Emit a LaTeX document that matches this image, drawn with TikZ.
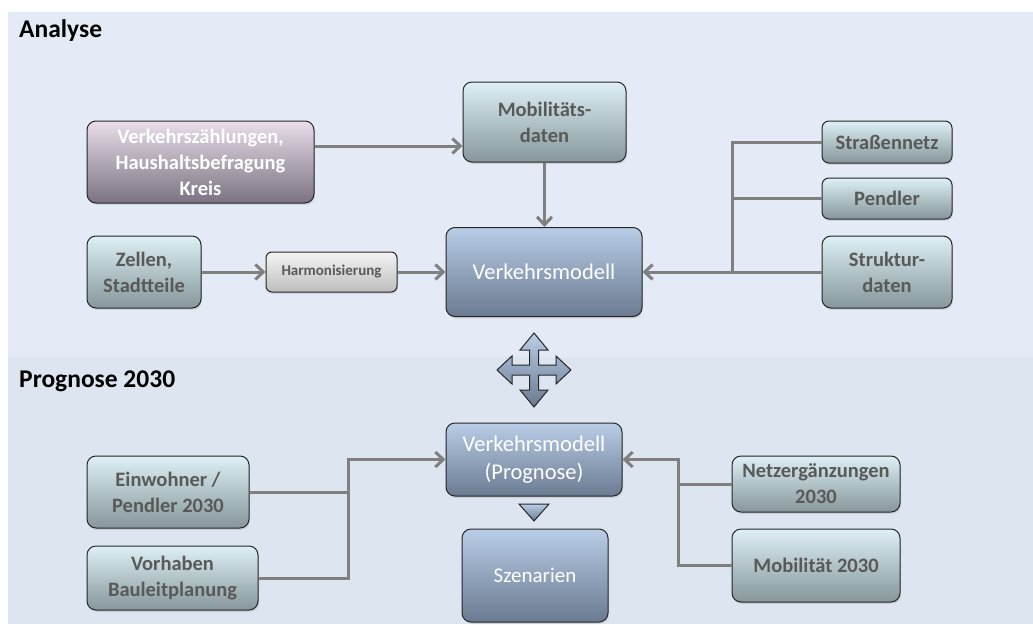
\documentclass[tikz,border=0pt]{standalone}
\usepackage{fontspec}
\setmainfont{Carlito}
\usetikzlibrary{arrows.meta,shadows}
\definecolor{panelA}{HTML}{E4EBF6}
\definecolor{panelB}{HTML}{DCE5F0}
\definecolor{tealtop}{HTML}{DDF0F5}
\definecolor{tealbot}{HTML}{86969A}
\definecolor{bluetop}{HTML}{B9CDE6}
\definecolor{bluebot}{HTML}{6A7A91}
\definecolor{purptop}{HTML}{E9DEEA}
\definecolor{purpbot}{HTML}{7A7280}
\definecolor{graytop}{HTML}{F4F4F4}
\definecolor{graybot}{HTML}{BDBDBD}
\definecolor{txtgray}{HTML}{595959}
\definecolor{linegray}{HTML}{808080}
\definecolor{edge}{HTML}{262626}
\tikzset{
  box/.style={draw=edge, line width=1pt, rounded corners=9pt, align=center, inner sep=0pt,
    font=\bfseries\fontsize{20.5}{26}\selectfont, text=txtgray,
    drop shadow={opacity=0.2, shadow xshift=1pt, shadow yshift=-2pt}},
  tealbox/.style={box, top color=tealtop, bottom color=tealbot},
  bluebox/.style={box, top color=bluetop, bottom color=bluebot, text=white,
    font=\fontsize{22.5}{28}\selectfont},
  purpbox/.style={box, top color=purptop, bottom color=purpbot, text=white},
  graybox/.style={box, top color=graytop, bottom color=graybot, rounded corners=6pt,
    font=\bfseries\fontsize{15}{18}\selectfont},
  conn/.style={draw=linegray, line width=3pt},
  arr/.style={conn, -{Straight Barb[length=8pt,width=15pt]}},
  title/.style={font=\bfseries\fontsize{25.5}{29}\selectfont, anchor=base west, inner sep=0pt},
  blueshape/.style={draw=edge, line width=1pt, top color=bluetop, bottom color=bluebot}
}
\begin{document}
\begin{tikzpicture}[x=1pt,y=-1pt]
\useasboundingbox (0,0) rectangle (1033,624);
\fill[white] (0,0) rectangle (1033,624);
\fill[panelA] (8,12) rectangle (1033,357);
\fill[panelB] (8,357) rectangle (1033,624);
\node[title] (tA) at (19,37) {Analyse};
\node[title] (tB) at (19,387) {Prognose 2030};

% Analyse
\node[purpbox, minimum width=227pt, minimum height=82pt] (vz) at (200.5,162) {Verkehrszählungen,\\Haushaltsbefragung\\Kreis};
\node[tealbox, minimum width=114pt, minimum height=72pt] (zel) at (144,272) {Zellen,\\Stadtteile};
\node[graybox, minimum width=131pt, minimum height=40pt] (harm) at (331.5,272) {Harmonisierung};
\node[tealbox, minimum width=163pt, minimum height=80pt] (mob) at (544.5,122) {Mobilitäts-\\daten};
\node[bluebox, minimum width=196pt, minimum height=89pt] (vm) at (544,272) {Verkehrsmodell};
\node[tealbox, minimum width=130pt, minimum height=42pt, rounded corners=7pt] (str) at (887,142) {Straßennetz};
\node[tealbox, minimum width=130pt, minimum height=41pt, rounded corners=7pt] (pen) at (887,198.5) {Pendler};
\node[tealbox, minimum width=130pt, minimum height=72pt] (struk) at (887,272) {Struktur-\\daten};

\coordinate (busA) at (732,272);
\draw[arr] ([yshift=16pt]vz.east) -- ([yshift=16pt]vz.east -| mob.west);
\draw[arr] (mob.south) -- (mob.south |- vm.north);
\draw[arr] (zel.east) -- (harm.west);
\draw[arr] (harm.east) -- (vm.west);
\draw[conn] (str.west) -| (busA);
\draw[conn] (pen.west) -| (busA);
\draw[arr] (struk.west) -- (vm.east);

% cross arrow
\draw[blueshape, line join=miter]
  (534,333) -- (548,350) -- (538.5,350) -- (538.5,365) -- (556,365) -- (556,356) -- (571,370)
  -- (556,384) -- (556,375) -- (538.5,375) -- (538.5,390) -- (548,390) -- (534,407)
  -- (520,390) -- (529.5,390) -- (529.5,375) -- (512,375) -- (512,384) -- (497,370)
  -- (512,356) -- (512,365) -- (529.5,365) -- (529.5,350) -- (520,350) -- cycle;

% Prognose
\node[bluebox, minimum width=176pt, minimum height=73pt] (vmp) at (534,459.5) {Verkehrsmodell\\(Prognose)};
\draw[blueshape] (519,504) -- (549,504) -- (534,521) -- cycle;
\node[bluebox, minimum width=146pt, minimum height=93pt, font=\fontsize{21}{25}\selectfont] (sz) at (535,575.5) {Szenarien};
\node[tealbox, minimum width=168pt, minimum height=56pt] (netz) at (816,484) {Netzergänzungen\\2030};
\node[tealbox, minimum width=168pt, minimum height=73pt] (m30) at (816,565.5) {Mobilität 2030};
\node[tealbox, minimum width=162pt, minimum height=72pt] (ein) at (168,492) {Einwohner /\\Pendler 2030};
\node[tealbox, minimum width=171pt, minimum height=64pt] (vor) at (172.5,578) {Vorhaben\\Bauleitplanung};

\coordinate (busL) at (348,459.5);
\coordinate (busR) at (678,459.5);
\draw[conn] (vor.east) -| (busL);
\draw[arr] (ein.east) -| (busL) -- (vmp.west);
\draw[conn] (m30.west) -| (busR);
\draw[arr] (netz.west) -| (busR) -- (vmp.east);
\end{tikzpicture}
\end{document}
